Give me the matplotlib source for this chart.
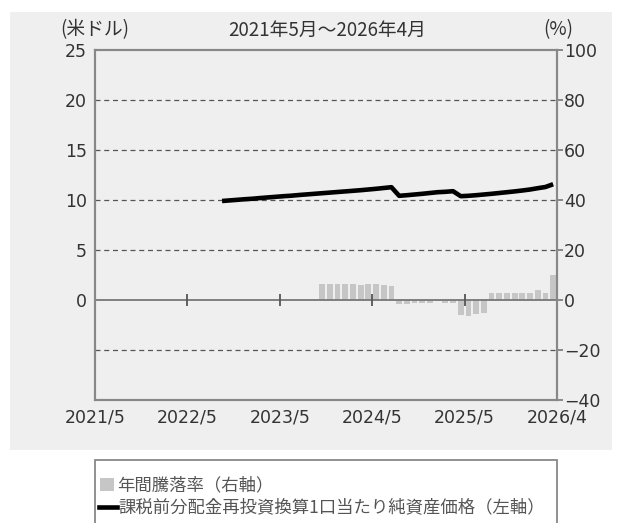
import matplotlib
matplotlib.use("Agg")
import matplotlib.pyplot as plt
from matplotlib.patches import Rectangle
from matplotlib.lines import Line2D

plt.rcParams['font.family'] = ['Noto Sans CJK JP', 'DejaVu Sans']

# month index 0 = 2021/5 ... 59 = 2026/4
x_labels = ['2021/5', '2022/5', '2023/5', '2024/5', '2025/5', '2026/4']
x_label_pos = [0, 12, 24, 36, 48, 60]

# 課税前分配金再投資換算1口当たり純資産価格 (米ドル), months 16..59
nav_months = list(range(16, 60))
nav = [9.90, 9.96, 10.02, 10.08, 10.13, 10.20, 10.26, 10.32, 10.38, 10.43,
       10.50, 10.56, 10.62, 10.68, 10.74, 10.80, 10.86, 10.92, 10.98, 11.05,
       11.12, 11.20, 11.28, 10.42, 10.48, 10.55, 10.62, 10.70, 10.78, 10.82,
       10.88, 10.38, 10.42, 10.48, 10.55, 10.62, 10.70, 10.78, 10.86, 10.95,
       11.05, 11.18, 11.30, 11.58]

# 年間騰落率 (%), months 29..59
ret_months = list(range(29, 60))
ret = [6.5, 6.5, 6.5, 6.5, 6.5, 6.0, 6.5, 6.5, 6.0, 5.5,
       -1.5, -1.5, -1.0, -1.0, -1.0, -0.5, -1.0, -1.0,
       -6.0, -6.5, -5.5, -5.0,
       3.0, 3.0, 3.0, 3.0, 3.0, 3.0, 4.0, 3.0, 10.0]

txt = '#333333'
num_font = ['DejaVu Sans']
W, H = 622, 523
fig = plt.figure(figsize=(W / 100, H / 100), dpi=100)

# gray panel behind chart
fig.add_artist(Rectangle((10 / W, 1 - 450 / H), 602 / W, 438 / H,
                         transform=fig.transFigure, facecolor='#efefef',
                         edgecolor='none', zorder=-10))

ax = fig.add_axes([95 / W, 1 - 400 / H, 462 / W, 350 / H])
ax2 = ax.twinx()
ax.set_zorder(ax2.get_zorder() + 1)
ax.patch.set_visible(False)
ax2.patch.set_facecolor('white')

ax.set_xlim(0, 60)
ax.set_ylim(-10, 25)
ax2.set_ylim(-40, 100)

# grid
for g in [20, 15, 10, 5, -5]:
    ax.axhline(g, color='#555555', lw=0.9, ls=(0, (4, 3)), zorder=1)
ax.axhline(0, color='#777777', lw=1.3, zorder=2)
ax.plot([12, 24, 36, 48], [0, 0, 0, 0], ls='none', marker='|',
        ms=8, mew=1.3, color='#555555', zorder=2)

ax2.bar([m + 0.5 for m in ret_months], ret, width=0.75, color='#c6c6c6',
        edgecolor='none', zorder=1)
ax.plot([m + 0.5 for m in nav_months], nav, color='black', lw=3.3,
        solid_capstyle='butt', zorder=3)

ax.set_yticks([0, 5, 10, 15, 20, 25])
ax2.set_yticks([-40, -20, 0, 20, 40, 60, 80, 100])
ax.set_xticks(x_label_pos)
ax.set_xticklabels(x_labels)

ax.tick_params(axis='y', length=0, pad=6, labelsize=12.5, labelcolor=txt)
ax.tick_params(axis='x', length=0, pad=6, labelsize=12.5, labelcolor=txt)
ax2.tick_params(axis='y', length=4, width=1.2, color='#777777', pad=1,
                labelsize=12.5, labelcolor=txt)
for lab in ax.get_xticklabels() + ax.get_yticklabels() + ax2.get_yticklabels():
    lab.set_family(num_font)

for a in (ax, ax2):
    for s in a.spines.values():
        s.set_color('#888888')
        s.set_linewidth(1.5)

fig.text(60 / W, 1 - 30 / H, '(米ドル)', fontsize=13.5, color=txt, va='center')
fig.text(327 / W, 1 - 30 / H, '2021年5月～2026年4月', fontsize=13.5,
         color=txt, va='center', ha='center')
fig.text(543 / W, 1 - 30 / H, '(%)', fontsize=13.5, color=txt, va='center')

# legend box (bottom cut off by the image edge)
fig.add_artist(Rectangle((95 / W, -0.05), 462 / W, 1 - 460 / H + 0.05,
                         transform=fig.transFigure, facecolor='white',
                         edgecolor='#888888', lw=1.3))
fig.add_artist(Rectangle((100 / W, 1 - 491 / H), 14 / W, 13 / H,
                         transform=fig.transFigure, facecolor='#c6c6c6',
                         edgecolor='none'))
fig.text(117 / W, 1 - 485 / H, '年間騰落率（右軸）', fontsize=12.5,
         color='#555555', va='center')
fig.add_artist(Line2D([99 / W, 117 / W], [1 - 507 / H, 1 - 507 / H],
                      transform=fig.transFigure, color='black', lw=3.3))
fig.text(118 / W, 1 - 507 / H, '課税前分配金再投資換算1口当たり純資産価格（左軸）',
         fontsize=12.5, color='#555555', va='center')

fig.savefig('out.png', dpi=100)
